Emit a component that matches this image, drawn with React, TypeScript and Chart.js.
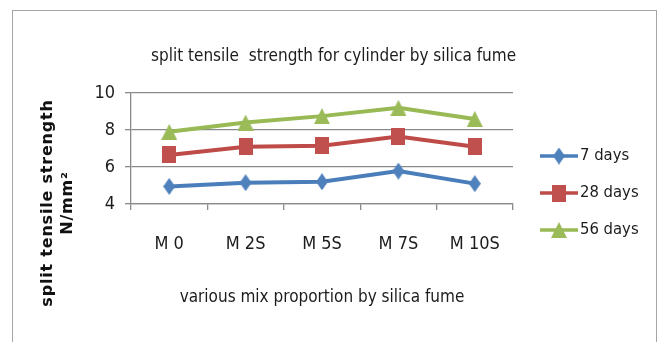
import React, { useEffect, useRef } from 'react';
import { Chart, registerables } from 'chart.js';

Chart.register(...registerables);

const categories = ['M 0', 'M 2S', 'M 5S', 'M 7S', 'M 10S'];
const days7 = [4.95, 5.15, 5.2, 5.78, 5.1];
const days28 = [6.65, 7.1, 7.15, 7.65, 7.1];
const days56 = [7.9, 8.4, 8.75, 9.2, 8.6];
const seriesLabels = ['7 days', '28 days', '56 days'];
const lineColors = ['#4A7EBB', '#BE4B48', '#98B954'];
const markerColors = ['#4F81BD', '#C0504D', '#9BBB59'];
const markerShapes = ['diamond', 'square', 'triangle'];
const yMin = 4;
const yMax = 10;
const yStep = 2;
const chartTitle = 'split tensile  strength for cylinder by silica fume';
const xTitle = 'various mix proportion by silica fume';
const yTitle = ['split tensile strength', 'N/mm²'];

const NARROW = '"Liberation Sans Narrow", "DejaVu Sans Condensed", "Open Sans", sans-serif';

function makeMarker(shape: string, color: string): HTMLCanvasElement {
  const size: Record<string, [number, number]> = {
    diamond: [12, 17],
    square: [14, 17],
    triangle: [16, 16],
  };
  const [w, h] = size[shape];
  const c = document.createElement('canvas');
  c.width = w;
  c.height = h;
  const ctx = c.getContext('2d')!;
  ctx.fillStyle = color;
  ctx.beginPath();
  if (shape === 'diamond') {
    ctx.moveTo(w / 2, 0);
    ctx.lineTo(w, h / 2);
    ctx.lineTo(w / 2, h);
    ctx.lineTo(0, h / 2);
  } else if (shape === 'square') {
    ctx.rect(0, 0, w, h);
  } else {
    ctx.moveTo(w / 2, 0);
    ctx.lineTo(w, h);
    ctx.lineTo(0, h);
  }
  ctx.closePath();
  ctx.fill();
  return c;
}

export default function App() {
  const ref = useRef<HTMLCanvasElement | null>(null);

  useEffect(() => {
    if (!ref.current) return;
    const markers = markerShapes.map((s, i) => makeMarker(s, markerColors[i]));
    const seriesValues = [days7, days28, days56];

    const textPlugin = {
      id: 'textPlugin',
      afterDraw(chart: any) {
        const { ctx, chartArea } = chart;
        ctx.save();
        // main title
        ctx.fillStyle = '#1c1c1c';
        ctx.font = `17px ${NARROW}`;
        ctx.textAlign = 'center';
        ctx.textBaseline = 'middle';
        ctx.fillText(chartTitle, chart.width / 2 + 3, 57);

        // y-axis title (two lines, rotated)
        ctx.save();
        ctx.translate(48, 203);
        ctx.rotate(-Math.PI / 2);
        ctx.font = 'bold 16px "DejaVu Sans", Verdana, sans-serif';
        (ctx as any).letterSpacing = '0.8px';
        ctx.fillStyle = '#111';
        ctx.fillText(yTitle[0], 0, 0);
        ctx.fillText(yTitle[1], 0, 20);
        ctx.restore();

        // legend
        ctx.font = `16.5px ${NARROW}`;
        ctx.textAlign = 'left';
        ctx.textBaseline = 'middle';
        seriesLabels.forEach((lab, i) => {
          const y = 156 + i * 37;
          const x0 = chartArea.right + 27;
          ctx.strokeStyle = lineColors[i];
          ctx.lineWidth = 3.5;
          ctx.beginPath();
          ctx.moveTo(x0, y);
          ctx.lineTo(x0 + 38, y);
          ctx.stroke();
          const m = markers[i];
          ctx.drawImage(m, x0 + 19 - m.width / 2, y - m.height / 2);
          ctx.fillStyle = '#1c1c1c';
          ctx.fillText(lab, x0 + 40, y);
        });
        ctx.restore();
      },
    };

    const chart = new Chart(ref.current, {
      type: 'line',
      data: {
        labels: categories,
        datasets: seriesLabels.map((lab, i) => ({
          label: lab,
          data: seriesValues[i],
          borderColor: lineColors[i],
          backgroundColor: markerColors[i],
          borderWidth: 4,
          pointStyle: markers[i] as any,
          pointRadius: 8,
          pointHoverRadius: 8,
          tension: 0,
          fill: false,
        })),
      },
      options: {
        responsive: false,
        animation: false,
        events: [],
        layout: { padding: { top: 93, right: 148, bottom: 0, left: 0 } },
        plugins: {
          legend: { display: false },
          title: { display: false },
          tooltip: { enabled: false },
        },
        scales: {
          x: {
            offset: true,
            grid: {
              display: true,
              drawOnChartArea: false,
              drawTicks: true,
              tickLength: 6,
              offset: true,
              color: '#8a8a8a',
              lineWidth: 1.3,
            },
            border: { display: true, color: '#8a8a8a', width: 1.3 },
            ticks: {
              color: '#1c1c1c',
              padding: 24,
              font: { family: NARROW, size: 18, lineHeight: 1.2 },
              maxRotation: 0,
              autoSkip: false,
            },
            title: {
              display: true,
              text: xTitle,
              color: '#1c1c1c',
              font: { family: NARROW, size: 17, lineHeight: 1.2 },
              padding: { top: 0, bottom: 34 },
            },
            afterFit: (scale: any) => {
              scale.height = 138;
            },
          },
          y: {
            min: yMin,
            max: yMax,
            ticks: {
              stepSize: yStep,
              color: '#1c1c1c',
              padding: 10,
              font: { family: NARROW, size: 18, lineHeight: 1.2 },
            },
            grid: {
              color: '#8a8a8a',
              lineWidth: 1.3,
              drawTicks: true,
              tickLength: 6,
            },
            border: { display: true, color: '#8a8a8a', width: 1.3 },
            afterFit: (scale: any) => {
              scale.width = 131;
            },
          },
        },
      },
      plugins: [textPlugin],
    });
    return () => chart.destroy();
  }, []);

  return (
    <div style={{ position: 'absolute', left: 0, top: 0, width: 661, height: 342, overflow: 'hidden', background: '#fff' }}>
      <div
        style={{
          position: 'absolute',
          left: 12,
          top: 10,
          width: 645,
          height: 340,
          border: '1px solid #a6a6a6',
          boxSizing: 'border-box',
        }}
      />
      <canvas ref={ref} width={661} height={342} style={{ position: 'absolute', left: 0, top: 0 }} />
    </div>
  );
}
